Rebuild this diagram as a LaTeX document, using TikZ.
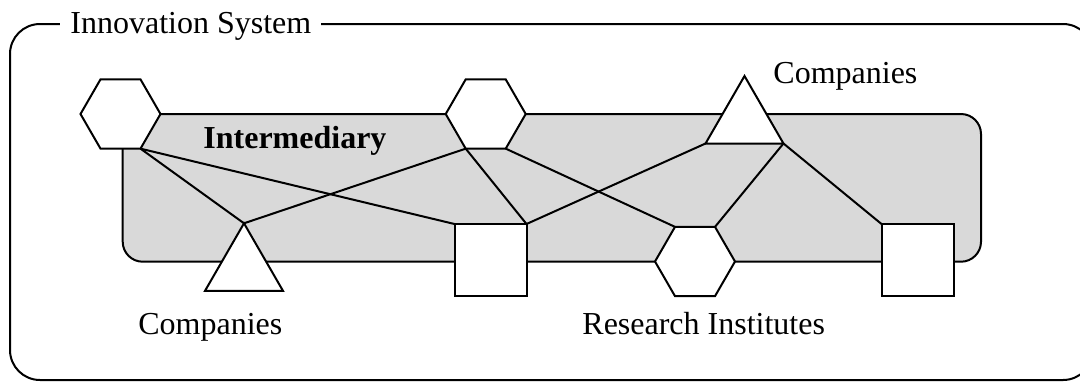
\documentclass[tikz,border=0pt]{standalone}
\usepackage{fontspec}
\setmainfont{Liberation Serif}
\usetikzlibrary{shapes.geometric}
\definecolor{interfill}{RGB}{217,217,217}
\pgfdeclarelayer{background}
\pgfsetlayers{background,main}

\begin{document}
\begin{tikzpicture}
	[
		x = 0.5pt, y = -0.5pt,
		font = \fontsize{16}{19}\selectfont,
		hexnode/.style = {regular polygon, regular polygon sides = 6, minimum size = 40pt, inner sep = 0pt, outer sep = 0pt, fill = white, draw = black, line width = 1pt},
		trinode/.style = {regular polygon, regular polygon sides = 3, minimum size = 45pt, inner sep = 0pt, outer sep = 0pt, fill = white, draw = black, line width = 1pt},
		sqnode/.style = {rectangle, minimum size = 36pt, inner sep = 0pt, outer sep = 0pt, fill = white, draw = black, line width = 1pt},
		tag/.style = {inner sep = 0pt, anchor = base west},
		link/.style = {line width = 1pt},
	]
	\useasboundingbox (0,0) rectangle (1080,381);
	% outer frame with its title
	\draw [line width = 1pt, rounded corners = 15pt] (10,24) rectangle (1093,380);
	\node (system) [tag, fill = white, inner xsep = 5pt] at (60,33) {Innovation System\hspace{5pt}};
	% actors
	\node (hexA) [hexnode] at (120.5,114) {};
	\node (hexB) [hexnode] at (485.7,114) {};
	\node (hexC) [hexnode] at (695,261.5) {};
	\node (triA) [trinode] at (744.5,121) {};
	\node (triB) [trinode] at (244,268.3) {};
	\node (sqA) [sqnode] at (490.5,260) {};
	\node (sqB) [sqnode] at (917.5,260) {};
	% labels
	\node (interlabel) [tag, font = \fontsize{16}{19}\selectfont\bfseries] at (203,148) {Intermediary};
	\node (compTop) [tag] at (773,83) {Companies};
	\node (compBot) [tag] at (138,334) {Companies};
	\node (research) [tag] at (582,334) {Research Institutes};
	\begin{pgfonlayer}{background}
		\draw [fill = interfill, line width = 1pt, rounded corners = 10pt] (122.7,114) rectangle (981,261.7);
		\draw [link] (hexA.-60) -- (triB.90);
		\draw [link] (hexA.-60) -- (sqA.north west);
		\draw [link] (hexB.-120) -- (triB.90);
		\draw [link] (hexB.-120) -- (sqA.north east);
		\draw [link] (hexB.-60) -- (hexC.120);
		\draw [link] (triA.210) -- (sqA.north east);
		\draw [link] (triA.-30) -- (hexC.60);
		\draw [link] (triA.-30) -- (sqB.north west);
	\end{pgfonlayer}
\end{tikzpicture}
\end{document}
